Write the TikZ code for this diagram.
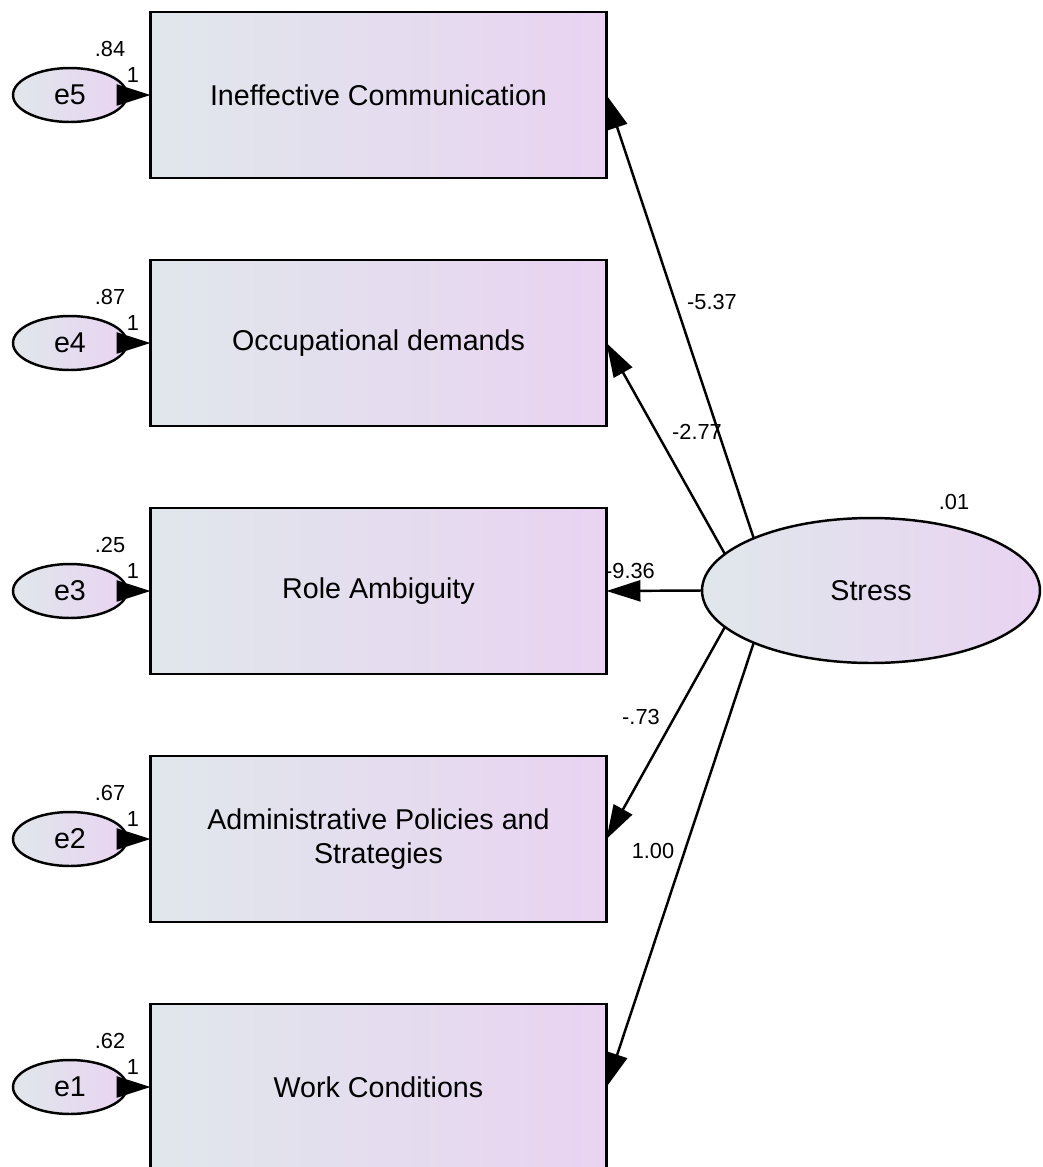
\documentclass[tikz,border=0pt]{standalone}
\usepackage{fontspec}
\setmainfont{Liberation Sans}
\usetikzlibrary{arrows.meta, shapes.geometric}

\definecolor{shadeL}{RGB}{224,231,235}
\definecolor{shadeR}{RGB}{233,211,242}

\begin{document}
\begin{tikzpicture}[x=0.02cm, y=-0.02cm, >={Triangle[length=0.68cm, width=0.42cm]},
    obs/.style={rectangle, draw, line width=1.5pt, left color=shadeL, right color=shadeR,
      minimum width=9.12cm, minimum height=3.32cm, inner sep=0pt, outer sep=0pt,
      align=center, font=\fontsize{16.3}{19.5}\selectfont},
    err/.style={ellipse, draw, line width=1.4pt, left color=shadeL, right color=shadeR,
      minimum width=2.28cm, minimum height=1.08cm, inner sep=0pt, outer sep=0pt,
      font=\fontsize{16.3}{19.5}\selectfont},
    lat/.style={ellipse, draw, line width=1.4pt, left color=shadeL, right color=shadeR,
      minimum width=6.76cm, minimum height=2.9cm, inner sep=0pt, outer sep=0pt,
      font=\fontsize{16.3}{19.5}\selectfont},
    est/.style={inner sep=0pt, font=\fontsize{12.4}{14}\selectfont},
    link/.style={->, line width=1.4pt}]
  \path[use as bounding box, clip] (0,0) rectangle (1042,1167);

  % observed variables
  \node[obs] (IC) at (378.5,95) {Ineffective Communication};
  \node[obs] (OD) at (378.5,343) {Occupational demands};
  \node[obs] (RA) at (378.5,591) {Role Ambiguity};
  \node[obs] (AP) at (378.5,839) {Administrative Policies and\\Strategies};
  \node[obs] (WC) at (378.5,1087) {Work Conditions};

  % error terms
  \node[err] (e5) at (70,95) {e5};
  \node[err] (e4) at (70,343) {e4};
  \node[err] (e3) at (70,591) {e3};
  \node[err] (e2) at (70,839) {e2};
  \node[err] (e1) at (70,1087) {e1};

  \draw[link] (e5) -- (IC);
  \draw[link] (e4) -- (OD);
  \draw[link] (e3) -- (RA);
  \draw[link] (e2) -- (AP);
  \draw[link] (e1) -- (WC);

  \node[est] (v5) at (110,49) {.84};
  \node[est] (v4) at (110,297) {.87};
  \node[est] (v3) at (110,545) {.25};
  \node[est] (v2) at (110,793) {.67};
  \node[est] (v1) at (110,1041) {.62};
  \node[est] (w5) at (133,75) {1};
  \node[est] (w4) at (133,323) {1};
  \node[est] (w3) at (133,571) {1};
  \node[est] (w2) at (133,819) {1};
  \node[est] (w1) at (133,1067) {1};

  % latent factor
  \node[lat] (ST) at (871,590.5) {Stress};
  \node[est] (vST) at (954,502) {.01};

  \draw[link] (ST.156) -- (IC.east);
  \draw[link] (ST.166) -- (OD.east);
  \draw[link] (ST.west) -- (RA.east);
  \draw[link] (ST.194) -- (AP.east);
  \draw[link] (ST.204) -- (WC.east);

  \node[est] (lIC) at (712,302) {-5.37};
  \node[est] (lOD) at (697,432) {-2.77};
  \node[est] (lRA) at (630,571) {-9.36};
  \node[est] (lAP) at (641,717) {-.73};
  \node[est] (lWC) at (653,851) {1.00};
\end{tikzpicture}
\end{document}
